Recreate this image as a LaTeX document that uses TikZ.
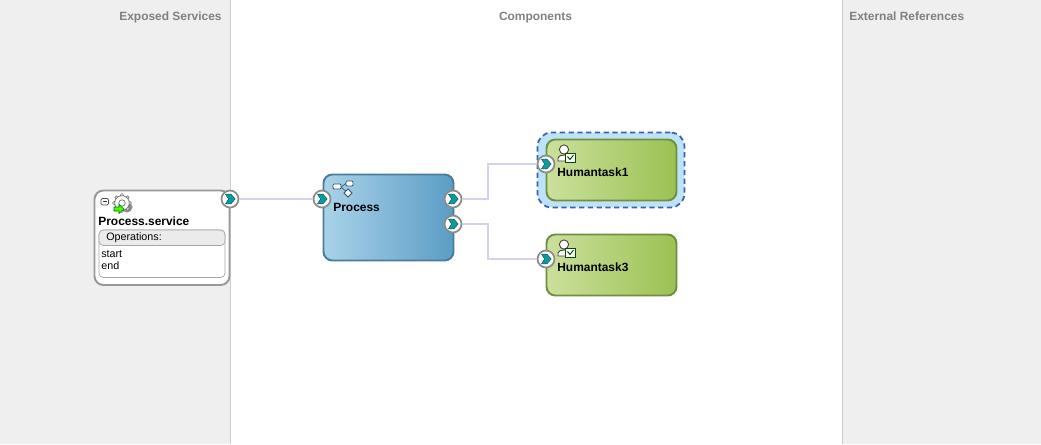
\documentclass[tikz,border=0pt]{standalone}
\usepackage{fontspec}
\setmainfont{Liberation Sans}
\usetikzlibrary{positioning, calc}

\definecolor{panelgray}{HTML}{EFEFEF}
\definecolor{panelline}{HTML}{CDCDCD}
\definecolor{wirecol}{HTML}{D4D0F2}
\definecolor{tealport}{HTML}{0C9A9E}
\definecolor{procline}{HTML}{4A7C9C}
\definecolor{procleft}{HTML}{A9D2E9}
\definecolor{procright}{HTML}{5B9DC5}
\definecolor{taskline}{HTML}{6E9040}
\definecolor{taskleft}{HTML}{CBE09C}
\definecolor{taskright}{HTML}{9CC153}
\definecolor{selline}{HTML}{3A62B0}
\definecolor{selfill}{HTML}{BEE2F8}

\begin{document}
\begin{tikzpicture}[
    x=0.02cm, y=-0.02cm,
    panel/.style={fill=panelgray, draw=none, minimum height=8.88cm, inner sep=0pt, outer sep=0pt, anchor=north west},
    headlbl/.style={font=\fontsize{6.8}{8}\selectfont\bfseries, text=black!50, inner sep=0pt},
    comp/.style={draw, rounded corners=5pt, line width=1.1pt, inner sep=0pt, outer sep=0pt, anchor=north west, minimum width=2.6cm},
    procbox/.style={comp, draw=procline, left color=procleft, right color=procright, minimum height=1.72cm},
    taskbox/.style={comp, draw=taskline, left color=taskleft, right color=taskright, minimum height=1.22cm},
    complbl/.style={font=\fontsize{6.8}{8}\selectfont\bfseries, inner sep=0pt, anchor=west},
    small/.style={font=\fontsize{6.1}{6.8}\selectfont, inner sep=0pt},
    wire/.style={draw=wirecol, line width=1.4pt},
    port/.style={circle, draw=black!45, fill=white, line width=1pt, minimum size=0.34cm, inner sep=0pt,
        path picture={
            \filldraw[tealport, draw=tealport!60!black, line width=0.25pt, shift={(path picture bounding box.center)}]
                (-4.5,-4.8) -- (1,-4.8) -- (5.2,0) -- (1,4.8) -- (-4.5,4.8) -- (-1.5,0) -- cycle;
        }},
    usericon/.pic={
        \draw[black!75, fill=white, line width=0.5pt] (-7,8) -- (-7,5) .. controls (-7,1) and (5,1) .. (5,5) -- (5,8) -- cycle;
        \draw[black!75, fill=white, line width=0.5pt] (-1,-3.5) circle[radius=4.6];
        \draw[green!30!black, fill=white, line width=0.5pt] (0.5,0) rectangle (10,9);
        \draw[green!30!black, line width=0.55pt] (2.5,3.5) -- (5,6.5) -- (8.5,2);
    },
    flowicon/.pic={
        \draw[procline!70!black, line width=0.4pt] (-1,-2) -- (4,-5.5) (-1,-2) -- (6,4);
        \draw[procline!70!black, fill=white, line width=0.45pt, rounded corners=0.6pt] (-9,-5) rectangle (-1,0);
        \draw[procline!70!black, fill=white, line width=0.45pt, rounded corners=0.6pt] (4,-8) rectangle (11,-3);
        \draw[procline!70!black, fill=white, line width=0.45pt] (6,0) -- (10,4) -- (6,8) -- (2,4) -- cycle;
    },
    gearicon/.pic={
        \fill[black!45] (5,4) circle[radius=5.5];
        \foreach \a in {0,45,...,315}
            \draw[black!55, fill=white, line width=0.35pt] (\a:7.7) circle[radius=1.8];
        \draw[black!55, fill=white, line width=0.4pt] (0,0) circle[radius=7.3];
        \draw[black!55, fill=white, line width=0.4pt] (0,0) circle[radius=3.2];
        \draw[green!45!black, fill=green!65!lime, line width=0.3pt] (-8,4) -- (-3,4) -- (-3,1.5) -- (2,6) -- (-3,10.5) -- (-3,8) -- (-8,8) -- cycle;
    },
]
\useasboundingbox (0,0) rectangle (1041,444);
\fill[white] (0,0) rectangle (1041,444);

% ---- side panels ----
\node[panel, minimum width=4.6cm] (left) at (0,0) {};
\node[panel, minimum width=3.98cm] (right) at (842,0) {};
\draw[panelline] (left.north east) -- (left.south east);
\draw[panelline] (right.north west) -- (right.south west);

\node[headlbl, anchor=base east] (hexposed) at (222,20) {Exposed Services};
\node[headlbl, anchor=base] (hcomp) at (535.5,20) {Components};
\node[headlbl, anchor=base west] (hext) at (849,20) {External References};

% ---- service ----
\node[comp, draw=black!40, fill=white, minimum width=2.7cm, minimum height=1.89cm] (svc) at (94.5,190.5) {};
\node[complbl] (svcname) at (98,221) {Process.service};
\draw[black!35, fill=white, line width=0.4pt, rounded corners=2.5pt] (99,230) rectangle (225,277.5);
\draw[black!35, fill=black!8, line width=0.4pt, rounded corners=2.5pt] (99,245.5) -- (99,230) -- (225,230) -- (225,245.5) -- cycle;
\node[small, anchor=west] (ops) at (106,237.5) {Operations:};
\node[small, anchor=north west, align=left] (opslist) at (101,250) {start\\end};
\draw[black!70, fill=white, line width=0.4pt, rounded corners=0.8pt] (101,198.5) rectangle (108.5,205);
\draw[black!80, line width=0.5pt] (103,201.8) -- (106.5,201.8);
\pic at (122,203) {gearicon};

% ---- process ----
\node[procbox] (proc) at (323.5,174.5) {};
\node[complbl] (procname) at (333,207) {Process};
\pic at (342,189) {flowicon};

% ---- human tasks ----
\node[comp, draw=selline, densely dashed, line width=1pt, fill=selfill,
    rounded corners=8pt, minimum width=2.94cm, minimum height=1.5cm] (sel) at (537.5,132.5) {};
\node[taskbox] (task1) at (546.5,139.5) {};
\node[complbl] (task1name) at (557,172) {Humantask1};
\pic at (565,153) {usericon};

\node[taskbox] (task3) at (546.5,234.5) {};
\node[complbl] (task3name) at (557,267) {Humantask3};
\pic at (565,248) {usericon};

% ---- ports ----
\node[port] (svcout) at (230,199) {};
\node[port] (procin) at (322,199) {};
\node[port] (procout1) at (453,199) {};
\node[port] (procout2) at (453,224) {};
\node[port] (task1in) at (546,164) {};
\node[port] (task3in) at (546,259) {};

% ---- wires ----
\coordinate (mid1) at (488,199);
\coordinate (mid2) at (488,224);
\draw[wire] (svcout) -- (procin);
\draw[wire] (procout1) -- (mid1) |- (task1in);
\draw[wire] (procout2) -- (mid2) |- (task3in);
\end{tikzpicture}
\end{document}
